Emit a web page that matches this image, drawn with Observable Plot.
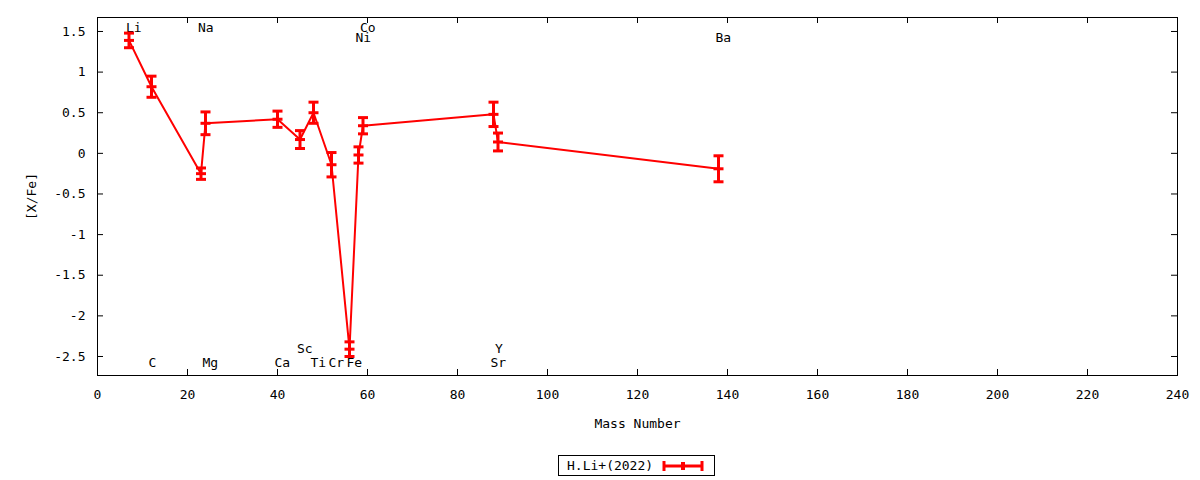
<!DOCTYPE html>
<html>
<head>
<meta charset="utf-8">
<script src="https://cdn.jsdelivr.net/npm/d3@7"></script>
<script src="https://cdn.jsdelivr.net/npm/@observablehq/plot@0.6"></script>
<style>
  body { margin: 0; background: #fff; font-family: "DejaVu Sans Mono", monospace; }
  #legend {
    display: inline-flex; align-items: center; margin: 10px 0 0 558px;
    border: 1px solid #000; height: 19px; padding: 0 9px 0 8px; font-size: 13px;
  }
  #legend svg { margin-left: 8px; }
</style>
</head>
<body>
<div id="chart"></div>
<div id="legend"><span>H.Li+(2022)</span>
  <svg width="44" height="14">
    <line x1="3" x2="41" y1="7" y2="7" stroke="red" stroke-width="3"/>
    <line x1="3" x2="3" y1="2" y2="12" stroke="red" stroke-width="3"/>
    <line x1="41" x2="41" y1="2" y2="12" stroke="red" stroke-width="3"/>
    <line x1="22" x2="22" y1="3" y2="11" stroke="red" stroke-width="4"/>
  </svg>
</div>
<script>
// abundances, ordered by mass number
const elements = ['Li', 'C', 'Na', 'Mg', 'Ca', 'Sc', 'Ti', 'Cr', 'Fe', 'Ni', 'Co', 'Sr', 'Y', 'Ba']
const masses   = [7, 12, 23, 24, 40, 45, 48, 52, 56, 58, 59, 88, 89, 138]
const values   = [1.39, 0.82, -0.25, 0.37, 0.42, 0.17, 0.50, -0.14, -2.41, -0.02, 0.34, 0.48, 0.14, -0.19]
const errors   = [0.09, 0.13, 0.07, 0.14, 0.10, 0.11, 0.13, 0.15, 0.09, 0.10, 0.10, 0.15, 0.11, 0.16]
// where each element name is printed: top/bottom rows
const labelRows = ['top1', 'bot2', 'top1', 'bot2', 'bot2', 'bot1', 'bot2', 'bot2', 'bot2', 'top2', 'top1', 'bot2', 'bot1', 'top2']

const xTicks = [0, 20, 40, 60, 80, 100, 120, 140, 160, 180, 200, 220, 240]
const yTicks = [1.5, 1, 0.5, 0, -0.5, -1, -1.5, -2, -2.5]

const data = elements.map((el, i) => ({
  el, mass: masses[i], value: values[i], err: errors[i], row: labelRows[i]
}))

const W = 1200, H = 445
const mL = 97, mR = 23, mT = 17, mB = 70
const innerW = W - mL - mR, innerH = H - mT - mB

// horizontal bar used for caps and the point marker
const bar = {
  draw(ctx, size) {
    const w = Math.sqrt(size / Math.PI)
    ctx.moveTo(-w, 0)
    ctx.lineTo(w, 0)
  }
}

const rowDy = {top1: 5, top2: 15, bot1: -23, bot2: -9}

let chart = Plot.plot({
  width: W,
  height: H,
  marginLeft: mL,
  marginRight: mR,
  marginTop: mT,
  marginBottom: mB,
  x: {domain: [0, 240]},
  y: {domain: [-2.734, 1.672]},
  style: {fontFamily: '"DejaVu Sans Mono", monospace', fontSize: '13px', color: 'black'},
  marks: [
    Plot.axisX({ticks: xTicks, tickSize: 0, tickPadding: 14, tickFormat: d => String(d),
      label: 'Mass Number', labelAnchor: 'center', labelArrow: false, labelOffset: 52}),
    Plot.axisY({ticks: yTicks, tickSize: 0, tickPadding: 12, tickFormat: d => String(d),
      label: '[X/Fe]', labelAnchor: 'center', labelArrow: false, labelOffset: 71}),
    // inward ticks on all four sides
    Plot.tickX(xTicks, {x: d => d, insetTop: innerH - 6, stroke: 'black'}),
    Plot.tickX(xTicks, {x: d => d, insetBottom: innerH - 6, stroke: 'black'}),
    Plot.tickY(yTicks, {y: d => d, insetRight: innerW - 6, stroke: 'black'}),
    Plot.tickY(yTicks, {y: d => d, insetLeft: innerW - 6, stroke: 'black'}),
    Plot.frame({stroke: 'black'}),
    ...Object.keys(rowDy).map(r => Plot.text(data.filter(d => d.row == r), {
      x: 'mass', text: 'el',
      frameAnchor: r.startsWith('top') ? 'top' : 'bottom',
      dy: rowDy[r], dx: -3, textAnchor: 'start', fill: 'black'
    })),
    Plot.line(data, {x: 'mass', y: 'value', stroke: 'red', strokeWidth: 2}),
    Plot.ruleX(data, {x: 'mass', y1: d => d.value - d.err, y2: d => d.value + d.err, stroke: 'red', strokeWidth: 3}),
    Plot.dot(data, {x: 'mass', y: d => d.value - d.err, symbol: bar, r: 5, stroke: 'red', fill: 'none', strokeWidth: 3}),
    Plot.dot(data, {x: 'mass', y: d => d.value + d.err, symbol: bar, r: 5, stroke: 'red', fill: 'none', strokeWidth: 3}),
    Plot.dot(data, {x: 'mass', y: 'value', symbol: bar, r: 5, stroke: 'red', fill: 'none', strokeWidth: 3}),
  ]
})
d3.select('#chart').append(() => chart)
</script>
</body>
</html>
